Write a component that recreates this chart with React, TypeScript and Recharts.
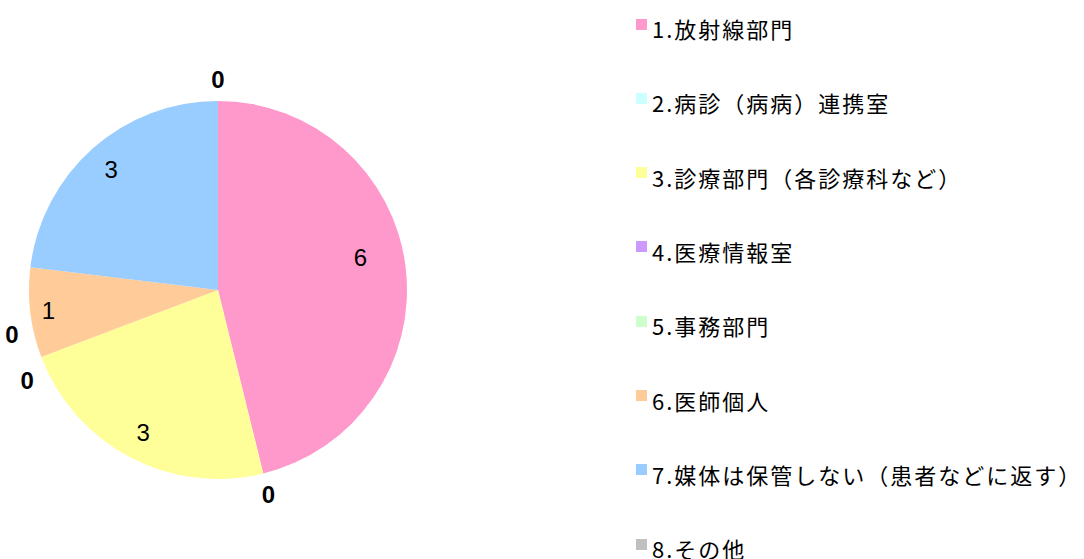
import React from 'react';
import { PieChart, Pie, Cell, Legend } from 'recharts';

const categories = [
  '1.放射線部門',
  '2.病診（病病）連携室',
  '3.診療部門（各診療科など）',
  '4.医療情報室',
  '5.事務部門',
  '6.医師個人',
  '7.媒体は保管しない（患者などに返す）',
  '8.その他',
];
const counts = [6, 0, 3, 0, 0, 1, 3, 0];
const colors = ['#FF99CC', '#CCFFFF', '#FFFF99', '#CC99FF', '#CCFFCC', '#FFCC99', '#99CCFF', '#C0C0C0'];

const data = categories.map((name, i) => ({ name, value: counts[i] }));

const RADIAN = Math.PI / 180;
const total = counts.reduce((a, b) => a + b, 0);

// zero slices that share an angle get spread a little so labels don't overlap
const zeroOffsets = (() => {
  const offsets: number[] = counts.map(() => 0);
  let acc = 0;
  const groups: Record<string, number[]> = {};
  counts.forEach((v, i) => {
    const mid = acc + v / 2;
    acc += v;
    if (v === 0) {
      const key = (mid / total).toFixed(4);
      (groups[key] = groups[key] || []).push(i);
    }
  });
  Object.values(groups).forEach((idx) => {
    idx.forEach((i, k) => {
      offsets[i] = (k - (idx.length - 1) / 2) * 13 + (idx.length > 1 ? 2 : 0);
    });
  });
  return offsets;
})();

const renderLabel = (props: any) => {
  const { cx, cy, midAngle, outerRadius, value, index } = props;
  const zero = value === 0;
  // big slices get their label pulled in a bit, like the original
  const share = value / total;
  const r = zero ? outerRadius + 22 : outerRadius * (0.93 - share * 0.34);
  const angle = midAngle - zeroOffsets[index] + (share > 0.4 ? 6 : 0);
  const x = cx + r * Math.cos(-angle * RADIAN);
  const y = cy + r * Math.sin(-angle * RADIAN);
  return (
    <text
      x={x}
      y={y}
      fill="#000"
      textAnchor="middle"
      dominantBaseline="central"
      fontSize={24}
      fontFamily="'Liberation Sans', Arial, sans-serif"
      fontWeight={zero ? 'bold' : 'normal'}
    >
      {value}
    </text>
  );
};

const renderLegend = () => (
  <div style={{ position: 'relative', width: 450, height: 559 }}>
    {categories.map((name, i) => (
      <div
        key={name}
        style={{
          position: 'absolute',
          left: 0,
          top: 28 + i * 74.3 - 14,
          height: 28,
          display: 'flex',
          alignItems: 'center',
          whiteSpace: 'nowrap',
        }}
      >
        <span
          style={{
            display: 'inline-block',
            width: 11,
            height: 11,
            background: colors[i],
            marginRight: 5,
            marginTop: -8,
          }}
        />
        <span
          style={{
            fontFamily: "'Noto Sans CJK JP', sans-serif",
            fontSize: 22,
            letterSpacing: 2,
            color: '#000',
          }}
        >
          {name}
        </span>
      </div>
    ))}
  </div>
);

export default function App() {
  return (
    <div style={{ position: 'absolute', left: 0, top: 0, width: 1084, height: 559, background: '#fff' }}>
      <PieChart width={1084} height={559} margin={{ top: 0, right: 0, bottom: 0, left: 0 }}>
        <Pie
          data={data}
          dataKey="value"
          nameKey="name"
          cx={218}
          cy={290}
          outerRadius={189}
          startAngle={90}
          endAngle={-270}
          stroke="none"
          label={renderLabel}
          labelLine={false}
          isAnimationActive={false}
        >
          {data.map((d, i) => (
            <Cell key={d.name} fill={colors[i]} />
          ))}
        </Pie>
        <Legend
          layout="vertical"
          verticalAlign="top"
          align="right"
          content={renderLegend}
          wrapperStyle={{ position: 'absolute', left: 636, top: 0, width: 450, height: 559 }}
        />
      </PieChart>
    </div>
  );
}
